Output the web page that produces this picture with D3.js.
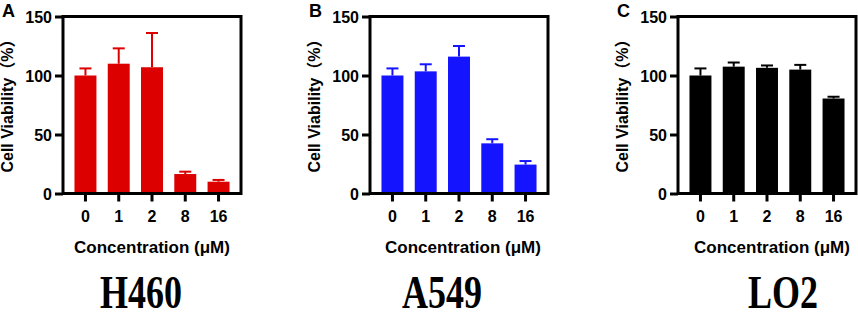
<!DOCTYPE html>
<html lang="en">
<head>
  <meta charset="UTF-8">
  <title>Cell Viability</title>
  <script src="https://d3js.org/d3.v7.min.js"></script>
  <style>
    body { margin: 0; background: #fff; }
    text { font-family: "Liberation Sans", Arial, "Noto Sans CJK SC", sans-serif; font-weight: bold; fill: #000; }
    .cell { font-family: "Liberation Serif", "Times New Roman", serif; }
  </style>
</head>
<body>
  <svg width="858" height="313"></svg>

  <script>
    // Data
    const concentrations = ["0", "1", "2", "8", "16"];
    const yTicks = [0, 50, 100, 150];

    const h460Mean = [100, 110, 107, 16.5, 10];
    const h460Sd   = [6, 13, 29, 2, 1.5];

    const a549Mean = [100, 103.5, 116, 42.5, 24.5];
    const a549Sd   = [6, 6, 9, 3.5, 3];

    const lo2Mean = [100, 107.5, 106.5, 105, 80.5];
    const lo2Sd   = [6, 3.5, 2, 4, 1.5];

    const panels = [
      { letter: "A", name: "H460", mean: h460Mean, sd: h460Sd, color: "#dd0000", left: 63,  nameX: 141, titleX: 152 },
      { letter: "B", name: "A549", mean: a549Mean, sd: a549Sd, color: "#1414ff", left: 370, nameX: 442, titleX: 463 },
      { letter: "C", name: "LO2",  mean: lo2Mean,  sd: lo2Sd,  color: "#000000", left: 678, nameX: 783, titleX: 772 }
    ];

    const plotW = 178, plotTop = 16.5, plotBottom = 193.5;

    const svg = d3.select("svg");

    const x = d3.scaleBand()
      .domain(concentrations)
      .range([0, plotW])
      .paddingInner(0.34)
      .paddingOuter(0.345);

    const y = d3.scaleLinear()
      .domain([0, 150])
      .range([plotBottom, plotTop]);

    panels.forEach(p => {
      const g = svg.append("g").attr("transform", `translate(${p.left},0)`);
      const rows = concentrations.map((c, i) => ({ c, m: p.mean[i], s: p.sd[i] }));

      // bars
      g.selectAll(".bar")
        .data(rows)
        .join("rect")
        .attr("class", "bar")
        .attr("x", d => x(d.c))
        .attr("y", d => y(d.m))
        .attr("width", x.bandwidth())
        .attr("height", d => y(0) - y(d.m))
        .attr("fill", p.color);

      // error bars (upper half only)
      g.selectAll(".err")
        .data(rows)
        .join("line")
        .attr("class", "err")
        .attr("x1", d => x(d.c) + x.bandwidth() / 2)
        .attr("x2", d => x(d.c) + x.bandwidth() / 2)
        .attr("y1", d => y(d.m))
        .attr("y2", d => y(d.m + d.s))
        .attr("stroke", p.color)
        .attr("stroke-width", 2);

      g.selectAll(".cap")
        .data(rows)
        .join("line")
        .attr("class", "cap")
        .attr("x1", d => x(d.c) + x.bandwidth() / 2 - 6)
        .attr("x2", d => x(d.c) + x.bandwidth() / 2 + 6)
        .attr("y1", d => y(d.m + d.s))
        .attr("y2", d => y(d.m + d.s))
        .attr("stroke", p.color)
        .attr("stroke-width", 2);

      // y axis
      const ya = g.append("g")
        .call(d3.axisLeft(y).tickValues(yTicks).tickSize(8).tickPadding(3));
      ya.select(".domain").remove();
      ya.selectAll("line").attr("stroke", "#000").attr("stroke-width", 3);
      ya.selectAll("text").style("font-size", "16px").attr("dy", "0.36em");

      // x axis
      const xa = g.append("g")
        .attr("transform", `translate(0,${plotBottom})`)
        .call(d3.axisBottom(x).tickSize(8).tickPadding(9));
      xa.select(".domain").remove();
      xa.selectAll("line").attr("stroke", "#000").attr("stroke-width", 3);
      xa.selectAll("text").style("font-size", "16px");

      // frame
      g.append("rect")
        .attr("x", 0)
        .attr("y", plotTop)
        .attr("width", plotW)
        .attr("height", plotBottom - plotTop)
        .attr("fill", "none")
        .attr("stroke", "#000")
        .attr("stroke-width", 3);

      // labels
      g.append("text")
        .attr("x", -61)
        .attr("y", 17)
        .style("font-size", "18px")
        .text(p.letter);

      g.append("text")
        .attr("transform", `translate(-50,${(plotTop + plotBottom) / 2 - 3}) rotate(-90)`)
        .attr("text-anchor", "middle")
        .style("font-size", "16px")
        .text("Cell Viability（%）");

      svg.append("text")
        .attr("x", p.titleX)
        .attr("y", 253)
        .attr("text-anchor", "middle")
        .style("font-size", "17px")
        .text("Concentration (μM)");

      svg.append("text")
        .attr("class", "cell")
        .attr("transform", `translate(${p.nameX},308) scale(1,1.27)`)
        .attr("text-anchor", "middle")
        .style("font-size", "36px")
        .text(p.name);
    });
  </script>
</body>
</html>
